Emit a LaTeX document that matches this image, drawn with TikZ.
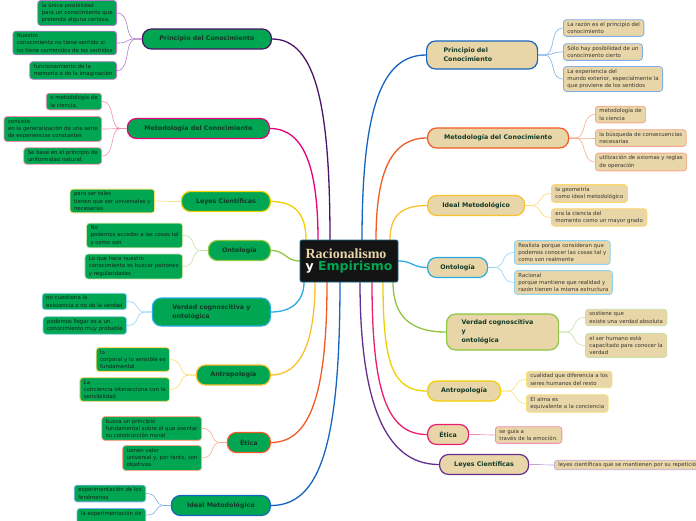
\documentclass[tikz,border=0pt]{standalone}
\usepackage{fontspec}
\setmainfont{DejaVu Sans}
\newfontfamily\serifbold{Liberation Serif}
\definecolor{gfill}{HTML}{00A651}
\definecolor{tfill}{HTML}{E8D5A8}
\definecolor{mtext}{HTML}{123A26}
\definecolor{ltext}{HTML}{14241A}
\definecolor{rtext}{HTML}{3A3630}
\definecolor{cPurple}{HTML}{4B1468}
\definecolor{cPink}{HTML}{E6007E}
\definecolor{cYellow}{HTML}{F2D000}
\definecolor{cGreen}{HTML}{8DC63F}
\definecolor{cLBlue}{HTML}{29ABE2}
\definecolor{cGold}{HTML}{FBC02D}
\definecolor{cOrange}{HTML}{F15A24}
\definecolor{cBlue}{HTML}{1565C0}
\definecolor{cRPurple}{HTML}{662D91}
\definecolor{cRPink}{HTML}{EC1C6E}
\definecolor{lPurple}{HTML}{B07CC6}
\definecolor{lPink}{HTML}{F48FB1}
\definecolor{lYellow}{HTML}{F7E27A}
\definecolor{lGreen}{HTML}{C5E1A5}
\definecolor{lLBlue}{HTML}{8FD3F2}
\definecolor{lGold}{HTML}{FFD866}
\definecolor{lOrange}{HTML}{F8A98B}
\definecolor{lBlue}{HTML}{7FAEE8}
\definecolor{lRPurple}{HTML}{C4A6D6}
\begin{document}
\begin{tikzpicture}[x=1pt,y=-1pt,
  centerbox/.style={draw=cLBlue!60!black, fill=black!92, line width=0.8pt, rounded corners=2pt, minimum width=98pt, minimum height=42pt, inner sep=3pt, align=left},
  mainL/.style={draw=#1, fill=gfill, line width=1.2pt, rounded corners=9pt, text=mtext, font=\bfseries\fontsize{6.3}{9}\selectfont, inner xsep=3pt, inner ysep=2pt, minimum height=20pt, align=left},
  mainR/.style={draw=#1, fill=tfill, line width=1.2pt, rounded corners=9pt, text=mtext, font=\bfseries\fontsize{6.3}{9}\selectfont, inner xsep=3pt, inner ysep=2pt, minimum height=20pt, align=left},
  leafL/.style={draw=#1, fill=gfill, line width=0.8pt, rounded corners=3pt, text=ltext, font=\fontsize{5.4}{7.3}\selectfont, inner xsep=4pt, inner ysep=2.5pt, align=left},
  leafR/.style={draw=#1, fill=tfill, line width=0.8pt, rounded corners=3pt, text=rtext, font=\fontsize{5.4}{7.3}\selectfont, inner xsep=4pt, inner ysep=2.5pt, align=left},
  mc/.style={draw=#1, line width=1.3pt},
  lc/.style={draw=#1, line width=0.6pt}
]
\useasboundingbox (0,0) rectangle (696,520);

% ---------- center connector anchors ----------
\coordinate (tL1) at (330,240);
\coordinate (tL2) at (318,240);
\coordinate (tL3) at (306,240);
\coordinate (sL4) at (300,261);
\coordinate (bL5) at (304,282);
\coordinate (bL6) at (315,282);
\coordinate (bL7) at (327,282);
\coordinate (bL8) at (340,282);
\coordinate (tR1) at (362,240);
\coordinate (tR2) at (376,240);
\coordinate (tR3) at (390,240);
\coordinate (sR4) at (398,261);
\coordinate (bR5) at (393,282);
\coordinate (bR6) at (383,282);
\coordinate (bR7) at (372,282);
\coordinate (bR8) at (360,282);

% ---------- left main nodes ----------
\node[mainL=cPurple, anchor=east, minimum width=129pt, align=center] (L1) at (272,39) {Principio del Conocimiento};
\node[mainL=cPink, anchor=east, minimum width=142pt, align=center] (L2) at (270,128.5) {Metodología del Conocimiento};
\node[mainL=cYellow, anchor=east, minimum width=89pt, align=center] (L3) at (271,201.5) {Leyes Científicas};
\node[mainL=cGreen, anchor=east, minimum width=62pt, align=center] (L4) at (271,250.5) {Ontología};
\node[mainL=cLBlue, anchor=east, minimum width=118pt, minimum height=28pt] (L5) at (271,312) {Verdad cognoscitiva y\\ontológica};
\node[mainL=cGold, anchor=east, minimum width=74pt, align=center] (L6) at (271,375) {Antropología};
\node[mainL=cOrange, anchor=east, minimum width=43pt, align=center] (L7) at (271,442.5) {Ética};
\node[mainL=cBlue, anchor=east, minimum width=99pt, align=center] (L8) at (271,505.5) {Ideal Metodológico};

% ---------- right main nodes ----------
\node[mainR=cBlue, anchor=west, text width=77pt, inner xsep=17pt, minimum height=28pt] (R1) at (426,55) {Principio del\\Conocimiento};
\node[mainR=cOrange, anchor=west, minimum width=141pt, align=center] (R2) at (427,138) {Metodología del Conocimiento};
\node[mainR=cGold, anchor=west, minimum width=97pt, align=center] (R3) at (427,205.5) {Ideal Metodológico};
\node[mainR=cLBlue, anchor=west, minimum width=60pt, align=center] (R4) at (427,267.5) {Ontología};
\node[mainR=cGreen, anchor=west, text width=82pt, inner xsep=15pt, minimum height=36pt] (R5) at (446,332) {Verdad cognoscitiva\\y\\ontológica};
\node[mainR=cYellow, anchor=west, minimum width=73pt, align=center] (R6) at (427,391) {Antropología};
\node[mainR=cRPink, anchor=west, minimum width=41pt, align=center] (R7) at (427,434.5) {Ética};
\node[mainR=cRPurple, anchor=west, minimum width=89pt, align=center] (R8) at (439,464.5) {Leyes Científicas};

% ---------- center connectors ----------
\draw[mc=cPurple] (tL1) .. controls +(0,-130) and +(45,0) .. (L1.east);
\draw[mc=cPink] (tL2) .. controls +(0,-70) and +(35,0) .. (L2.east);
\draw[mc=cYellow] (tL3) .. controls +(0,-25) and +(25,0) .. (L3.east);
\draw[mc=cGreen] (sL4) .. controls +(-15,0) and +(15,0) .. (L4.east);
\draw[mc=cLBlue] (bL5) .. controls +(0,18) and +(22,0) .. (L5.east);
\draw[mc=cGold] (bL6) .. controls +(0,60) and +(30,0) .. (L6.east);
\draw[mc=cOrange] (bL7) .. controls +(0,110) and +(40,0) .. (L7.east);
\draw[mc=cBlue] (bL8) .. controls +(0,160) and +(50,0) .. (L8.east);
\draw[mc=cBlue] (tR1) .. controls +(0,-130) and +(-45,0) .. (R1.west);
\draw[mc=cOrange] (tR2) .. controls +(0,-70) and +(-35,0) .. (R2.west);
\draw[mc=cGold] (tR3) .. controls +(0,-25) and +(-25,0) .. (R3.west);
\draw[mc=cLBlue] (sR4) .. controls +(15,0) and +(-15,0) .. (R4.west);
\draw[mc=cGreen] (bR5) .. controls +(0,35) and +(-35,0) .. (R5.west);
\draw[mc=cYellow] (bR6) .. controls +(0,80) and +(-35,0) .. (R6.west);
\draw[mc=cRPink] (bR7) .. controls +(0,110) and +(-40,0) .. (R7.west);
\draw[mc=cRPurple] (bR8) .. controls +(0,140) and +(-45,0) .. (R8.west);

% ---------- center node ----------
\node[centerbox] (c) at (349,261) {{\serifbold\bfseries\fontsize{14}{16}\selectfont\color{tfill}Racionalismo}\\[0.5pt]{\bfseries\fontsize{12.5}{14}\selectfont\color{white}y \color{gfill}Empirismo}};

% ---------- left leaves ----------
\node[leafL=lPurple, anchor=east] (l11) at (117,13) {la única posibilidad\\para un conocimiento que\\pretenda alguna certeza.};
\node[leafL=lPurple, anchor=east] (l12) at (117,43) {Nuestro\\conocimiento no tiene sentido si\\no tiene contenidos de los sentidos};
\node[leafL=lPurple, anchor=east] (l13) at (117,70.5) {funcionamiento de la\\memoria o de la imaginación};

\node[leafL=lPink, anchor=east] (l21) at (102,101.5) {o metodología de\\la ciencia.};
\node[leafL=lPink, anchor=east] (l22) at (102,129) {consiste\\en la generalización de una serie\\de experiencias constantes};
\node[leafL=lPink, anchor=east] (l23) at (102,156) {Se base en el principio de\\uniformidad natural.};

\node[leafL=lYellow, anchor=east] (l31) at (155,201) {para ser tales\\tienen que ser universales y\\necesarias};

\node[leafL=lGreen, anchor=east] (l41) at (183,235.5) {No\\podemos acceder a las cosas tal\\y como son};
\node[leafL=lGreen, anchor=east] (l42) at (183,266.5) {Lo que hace nuestro\\conocimiento es buscar patrones\\y regularidades};

\node[leafL=lLBlue, anchor=east] (l51) at (127,301.5) {no cuestiona la\\existencia o no de la verdad};
\node[leafL=lLBlue, anchor=east] (l52) at (127,325.5) {podemos llegar es a un\\conocimiento muy probable};

\node[leafL=lGold, anchor=east] (l61) at (170,359.5) {lo\\corporal y lo sensible es\\fundamental};
\node[leafL=lGold, anchor=east] (l62) at (170,389.5) {La\\conciencia interacciona con la\\sensibilidad};

\node[leafL=lOrange, anchor=east] (l71) at (202,428.5) {busca un principio\\fundamental sobre el que asentar\\su construcción moral};
\node[leafL=lOrange, anchor=east] (l72) at (202,458) {tienen valor\\universal y, por tanto, son\\objetivas.};

\node[leafL=lBlue, anchor=east] (l81) at (146,493.5) {experimentación de los\\fenómenos};
\node[leafL=lBlue, anchor=north east] (l82) at (146,508) {la experimentación de\\\phantom{fenómenos}};

% ---------- right leaves ----------
\node[leafR=lBlue, anchor=west] (r11) at (563,28) {La razón es el principio del\\conocimiento};
\node[leafR=lBlue, anchor=west] (r12) at (563,52) {Sólo hay posibilidad de un\\conocimiento cierto};
\node[leafR=lBlue, anchor=west] (r13) at (563,79) {La experiencia del\\mundo exterior, especialmente la\\que proviene de los sentidos};

\node[leafR=lOrange, anchor=west] (r21) at (595,114.5) {metodología de\\la ciencia};
\node[leafR=lOrange, anchor=west] (r22) at (595,138) {la búsqueda de consecuencias\\necesarias};
\node[leafR=lOrange, anchor=west] (r23) at (595,162) {utilización de axiomas y reglas\\de operación};

\node[leafR=lGold, anchor=west] (r31) at (551,193.5) {la geometría\\como ideal metodológico};
\node[leafR=lGold, anchor=west] (r32) at (551,217.5) {era la ciencia del\\momento como un mayor grado};

\node[leafR=lLBlue, anchor=west] (r41) at (514,252.5) {Realista porque consideran que\\podemos conocer las cosas tal y\\como son realmente};
\node[leafR=lLBlue, anchor=west] (r42) at (514,282.5) {Racional\\porque mantiene que realidad y\\razón tienen la misma estructura};

\node[leafR=lGreen, anchor=west] (r51) at (585,317.5) {sostiene que\\existe una verdad absoluta};
\node[leafR=lGreen, anchor=west] (r52) at (585,345.5) {el ser humano está\\capacitado para conocer la\\verdad};

\node[leafR=lYellow, anchor=west] (r61) at (526,379.5) {cualidad que diferencia a los\\seres humanos del resto};
\node[leafR=lYellow, anchor=west] (r62) at (526,403.5) {El alma es\\equivalente a la conciencia};

\node[leafR=lPink, anchor=west] (r71) at (495,435) {se guía a\\través de la emoción.};

\node[leafR=lRPurple, anchor=west, inner ysep=2pt] (r81) at (554,465) {leyes científicas que se mantienen por su repetición};

% ---------- leaf connectors ----------
\foreach \m/\l/\c in {L1/l11/lPurple, L1/l12/lPurple, L1/l13/lPurple, L2/l21/lPink, L2/l22/lPink, L2/l23/lPink, L3/l31/lYellow, L4/l41/lGreen, L4/l42/lGreen, L5/l51/lLBlue, L5/l52/lLBlue, L6/l61/lGold, L6/l62/lGold, L7/l71/lOrange, L7/l72/lOrange, L8/l81/lBlue}
  \draw[lc=\c] (\m.west) -- ++(-6,0) .. controls +(-12,0) and +(14,0) .. (\l.east);
\draw[lc=lBlue] (L8.west) -- ++(-6,0) .. controls +(-12,0) and +(14,0) .. ([yshift=-7pt]l82.north east);
\foreach \m/\l/\c in {R1/r11/lBlue, R1/r12/lBlue, R1/r13/lBlue, R2/r21/lOrange, R2/r22/lOrange, R2/r23/lOrange, R3/r31/lGold, R3/r32/lGold, R4/r41/lLBlue, R4/r42/lLBlue, R5/r51/lGreen, R5/r52/lGreen, R6/r61/lYellow, R6/r62/lYellow, R7/r71/lPink, R8/r81/lRPurple}
  \draw[lc=\c] (\m.east) -- ++(6,0) .. controls +(12,0) and +(-14,0) .. (\l.west);
\end{tikzpicture}
\end{document}
